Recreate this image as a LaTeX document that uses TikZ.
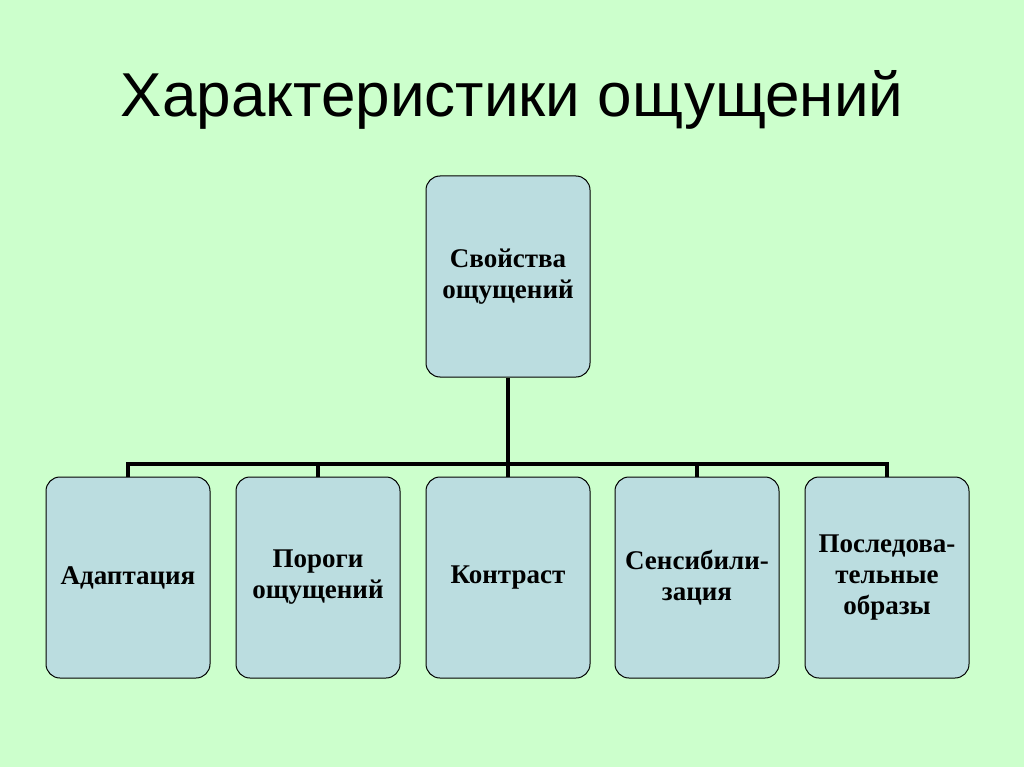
\documentclass[tikz,border=0pt]{standalone}
\usepackage{fontspec}
\setmainfont{Liberation Serif}
\newfontfamily\titlefont{Liberation Sans}
\begin{document}
\begin{tikzpicture}[x=1pt,y=-1pt,
  box/.style={draw=black,line width=1pt,fill=boxc,rounded corners=14pt,minimum width=164pt,minimum height=201pt,align=center,font=\bfseries\fontsize{27}{31}\selectfont,inner sep=2pt},
  conn/.style={line width=4pt}]
\definecolor{bgc}{HTML}{CCFFCC}
\definecolor{boxc}{HTML}{BBDDE0}
\fill[bgc] (0,0) rectangle (1024,767);
\useasboundingbox (0,0) rectangle (1024,767);
\node[font=\titlefont\fontsize{62}{66}\selectfont] (title) at (512,100) {Характеристики ощущений};
\node[box] (top) at (508,276.5) {Свойства\\ощущений};
\node[box] (b1) at (128,577.5) {Адаптация};
\node[box] (b2) at (318,577.5) {Пороги\\ощущений};
\node[box] (b3) at (508,577.5) {Контраст};
\node[box] (b4) at (697,577.5) {Сенсибили-\\зация};
\node[box] (b5) at (887,577.5) {Последова-\\тельные\\образы};
\coordinate (bar) at (508,464);
\draw[conn] (top.south) -- (bar);
\draw[conn] (b1.north) -- (b1.north |- bar) -- (b5.north |- bar) -- (b5.north);
\foreach \n in {b2,b3,b4} \draw[conn] (\n.north |- bar) -- (\n.north);
\end{tikzpicture}
\end{document}
